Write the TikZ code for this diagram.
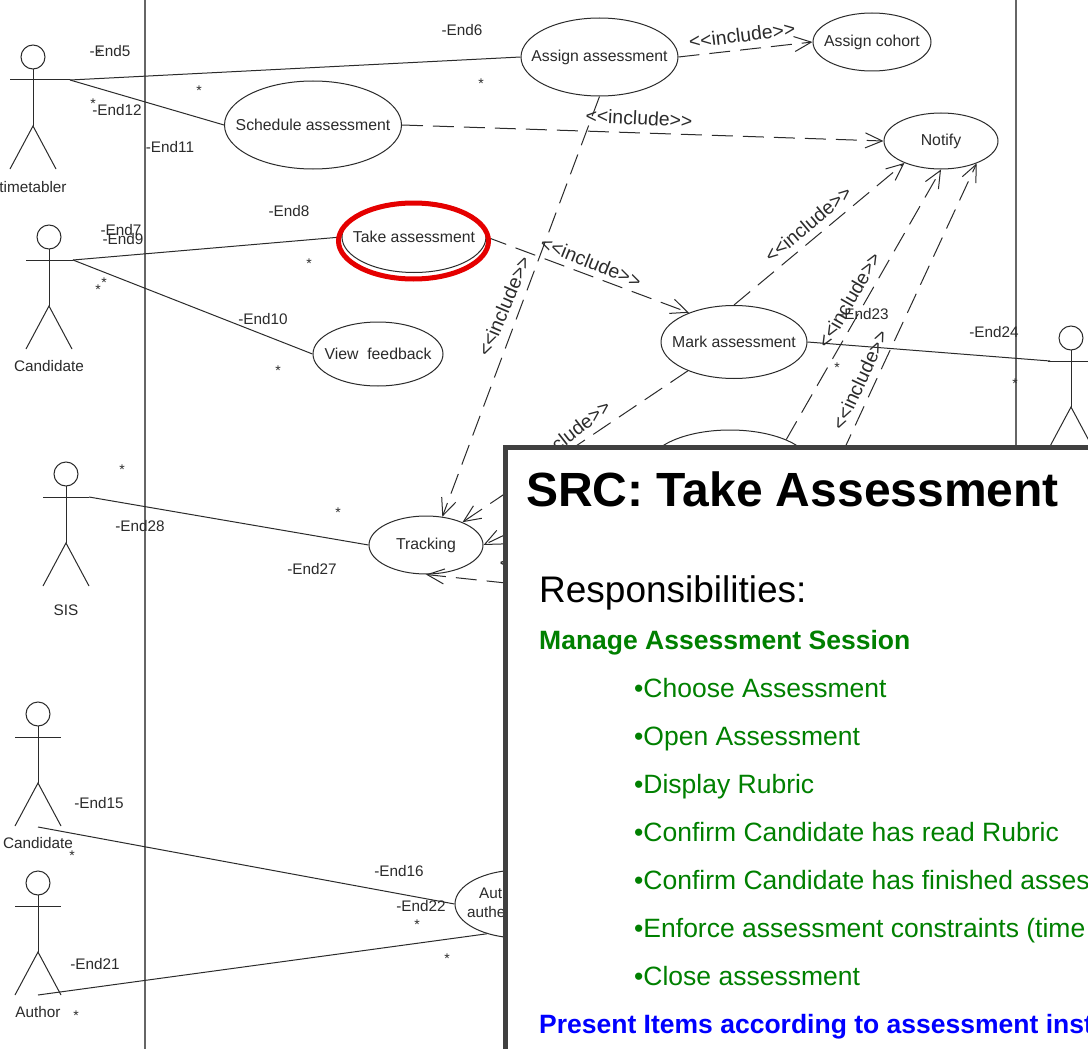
\documentclass[tikz,border=0pt]{standalone}
\usepackage{fontspec}
\setmainfont{Liberation Sans}
\usetikzlibrary{shapes.geometric,arrows.meta}
\definecolor{ink}{HTML}{2B2B2B}
\definecolor{rulegray}{HTML}{666666}
\definecolor{panelgray}{HTML}{404040}
\definecolor{srcgreen}{HTML}{008000}
\definecolor{srcblue}{HTML}{0000FF}
\newcommand{\fsz}[1]{\fontsize{#1}{#1}\selectfont}
\tikzset{
  uc/.style={draw=ink,line width=1pt,ellipse,inner sep=0pt},
  uct/.style={inner sep=0pt,font=\fsz{15.8},text=ink},
  lab/.style={inner sep=0pt,font=\fsz{15.3},text=ink},
  mult/.style={inner sep=0pt,font=\fsz{14},text=ink},
  incl/.style={inner sep=0pt,font=\fsz{19.4},text=ink},
  assoc/.style={draw=ink,line width=1pt},
  dep/.style={draw=ink,line width=1pt,dash pattern=on 21pt off 10pt,-{Straight Barb[length=17pt,width=15pt,line width=1pt]}},
  limb/.style={draw=ink,line width=1pt},
  head/.style={draw=ink,line width=1pt,circle,minimum size=24pt,inner sep=0pt},
  item/.style={inner sep=0pt,anchor=base west,font=\fsz{26.5},text=srcgreen},
  boldline/.style={inner sep=0pt,anchor=base west,font=\fsz{26.5}\bfseries},
}
\newcommand{\actor}[7]{% name, x, head y, half arm, arm right x, label, label offset
  \node[head] (#1head) at (#2,#3) {};
  \coordinate (#1neck) at (#2,#3+12);
  \coordinate (#1arm) at (#2,#3+23);
  \coordinate (#1hip) at (#2,#3+69);
  \coordinate (#1armL) at (#2-#4,#3+23);
  \coordinate (#1armR) at (#5,#3+23);
  \coordinate (#1legL) at (#2-#4,#3+112);
  \coordinate (#1legR) at (#2+#4,#3+112);
  \draw[limb] (#1neck) -- (#1hip);
  \draw[limb] (#1armL) -- (#1armR);
  \draw[limb] (#1legL) -- (#1hip) -- (#1legR);
  \node[lab] (#1label) at (#2,#3+#7) {#6};
}
\begin{document}
\begin{tikzpicture}[x=1pt,y=-1pt]
\useasboundingbox (0,0) rectangle (1088,1049);
\clip (0,0) rectangle (1088,1049);
\fill[white] (0,0) rectangle (1088,1049);

% system boundary
\coordinate (bl1) at (145,-2); \coordinate (bl2) at (145,1052);
\coordinate (br1) at (1016,-2); \coordinate (br2) at (1016,460);
\draw[rulegray,line width=1.8pt] (bl1) -- (bl2);
\draw[rulegray,line width=1.8pt] (br1) -- (br2);

% use cases
\node[uc,minimum width=157pt,minimum height=78pt,label={[uct]center:Assign assessment}] (assign) at (599.5,57) {};
\node[uc,minimum width=118pt,minimum height=58pt,label={[uct]center:Assign cohort}] (cohort) at (872,42) {};
\node[uc,minimum width=114pt,minimum height=56pt,label={[uct]center:Notify}] (notify) at (941,141) {};
\node[uc,minimum width=177pt,minimum height=88pt,label={[uct]center:Schedule assessment}] (schedule) at (313,125) {};
\node[uc,minimum width=144pt,minimum height=71pt,label={[uct]center:Take assessment}] (take) at (414,237) {};
\node[uc,minimum width=130pt,minimum height=64pt,label={[uct]center:View\ \ feedback}] (view) at (378,354) {};
\node[uc,minimum width=146pt,minimum height=73pt,label={[uct]center:Mark assessment}] (mark) at (734,342) {};
\node[uc,minimum width=164pt,minimum height=74pt] (lower) at (730,467) {};
\node[uc,minimum width=114pt,minimum height=58pt,label={[uct]center:Tracking}] (tracking) at (426,545) {};
\node[uc,minimum width=130pt,minimum height=68pt] (auth) at (520,904) {};
\node[lab,anchor=west] (authA) at (479,893) {Auth};
\node[lab,anchor=west] (authB) at (467,912) {authe};

% actors
\actor{tt}{33}{57}{23}{70}{timetabler}{130}
\actor{cand}{49}{237}{23}{73}{Candidate}{129}
\actor{sis}{66}{474}{23}{89}{SIS}{136}
\actor{candb}{38}{714}{23}{61}{Candidate}{129}
\actor{auth2}{38}{883}{23}{61}{Author}{129}
\actor{marker}{1071}{338}{23}{1094}{}{130}
\coordinate (markerArmEnd) at (1050,361);
\coordinate (candbFoot) at (38,827);
\coordinate (auth2Foot) at (38,995);

% associations
\draw[assoc] (ttarmR) -- (assign.west);
\draw[assoc] (ttarmR) -- (schedule.west);
\draw[assoc] (candarmR) -- (take.west);
\draw[assoc] (candarmR) -- (view.west);
\draw[assoc] (sisarmR) -- (tracking.west);
\draw[assoc] (candbFoot) -- (auth.west);
\draw[assoc] (auth2Foot) -- (auth.222);
\draw[assoc] (mark.east) -- (markerArmEnd);

% includes
\coordinate (hiddenA) at (790,566);
\coordinate (hiddenB) at (600,593);
\draw[dep] (assign.east) -- (cohort.west);
\draw[dep] (schedule.east) -- (notify.west);
\draw[dep] (assign.south) -- (tracking.60);
\draw[dep] (take.east) -- (mark.147);
\draw[dep] (mark.north) -- (notify.211);
\draw[dep] (lower.26) -- (notify.south);
\draw[dep] (hiddenA) -- (notify.-32);
\draw[dep] (mark.212) -- (tracking.32);
\draw[dep] (lower.west) -- (tracking.east);
\draw[dep] (hiddenB) -- (tracking.south);

% include labels
\node[incl,rotate=7] (i1) at (742,35) {<{}<include>{}>};
\node[incl,rotate=-3] (i2) at (639,118) {<{}<include>{}>};
\node[incl,rotate=-22] (i3) at (591,262) {<{}<include>{}>};
\node[incl,rotate=67] (i4) at (504,306) {<{}<include>{}>};
\node[incl,rotate=40] (i5) at (808,224) {<{}<include>{}>};
\node[incl,rotate=60] (i6) at (849,300) {<{}<include>{}>};
\node[incl,rotate=65] (i7) at (860,380) {<{}<include>{}>};
\node[incl,rotate=38] (i8) at (566,437) {<{}<include>{}>};
\node[incl,rotate=-3] (i9) at (553,565) {<{}<include>{}>};

% end names
\node[lab] (e5) at (110,51) {-End5};
\node[lab] (e12) at (117,110) {-End12};
\node[lab] (e11) at (170,147) {-End11};
\node[lab] (e6) at (462,30) {-End6};
\node[lab] (e8) at (289,211) {-End8};
\node[lab] (e7) at (121,230) {-End7};
\node[lab] (e9) at (123,239) {-End9};
\node[lab] (e10) at (263,319) {-End10};
\node[lab] (e23) at (864,314) {-End23};
\node[lab] (e24) at (994,332) {-End24};
\node[lab] (e28) at (140,526) {-End28};
\node[lab] (e27) at (312,569) {-End27};
\node[lab] (e15) at (99,803) {-End15};
\node[lab] (e16) at (399,871) {-End16};
\node[lab] (e22) at (421,906) {-End22};
\node[lab] (e21) at (95,964) {-End21};

% multiplicities
\node[mult] (m1) at (99,54) {*};
\node[mult] (m2) at (93,104) {*};
\node[mult] (m3) at (199,91) {*};
\node[mult] (m4) at (481,84) {*};
\node[mult] (m5) at (309,264) {*};
\node[mult] (m6) at (104,283) {*};
\node[mult] (m7) at (98,290) {*};
\node[mult] (m8) at (278,371) {*};
\node[mult] (m9) at (837,368) {*};
\node[mult] (m10) at (1015,384) {*};
\node[mult] (m11) at (122,470) {*};
\node[mult] (m12) at (338,513) {*};
\node[mult] (m13) at (72,856) {*};
\node[mult] (m14) at (417,925) {*};
\node[mult] (m15) at (447,959) {*};
\node[mult] (m16) at (76,1016) {*};

% highlight
\node[draw=red!90!black,line width=5pt,ellipse,inner sep=0pt,minimum width=150pt,minimum height=76pt] (takemark) at (413.5,241) {};

% SRC panel
\draw[panelgray,line width=5pt,fill=white] (505,447) rectangle (1100,1070);
\node[inner sep=0pt,anchor=base west,font=\fsz{48}\bfseries] (title) at (526,506) {SRC: Take Assessment};
\node[inner sep=0pt,anchor=base west,font=\fsz{37}] (resp) at (539,602) {Responsibilities:};
\node[boldline,text=srcgreen] (mgr) at (539,649) {Manage Assessment Session};
\node[item] (l1) at (634,697) {•Choose Assessment};
\node[item] (l2) at (634,745) {•Open Assessment};
\node[item] (l3) at (634,793) {•Display Rubric};
\node[item] (l4) at (634,841) {•Confirm Candidate has read Rubric};
\node[item] (l5) at (634,889) {•Confirm Candidate has finished asses};
\node[item] (l6) at (634,937) {•Enforce assessment constraints (time};
\node[item] (l7) at (634,985) {•Close assessment};
\node[boldline,text=srcblue] (pres) at (539,1033) {Present Items according to assessment inst};
\end{tikzpicture}
\end{document}
